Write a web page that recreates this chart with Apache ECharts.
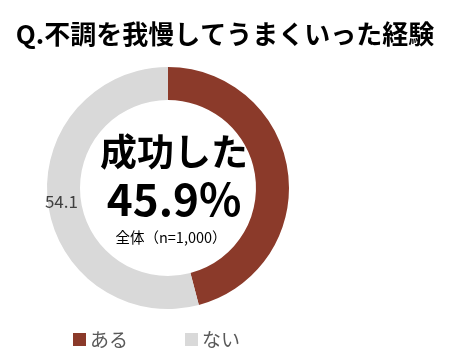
<!DOCTYPE html>
<html><head><meta charset="utf-8">
<script src="https://cdn.jsdelivr.net/npm/echarts@6/dist/echarts.min.js"></script>
<style>html,body{margin:0;padding:0;background:#fff}#c{width:450px;height:363px}</style>
</head><body><div id="c"></div>
<script>
const categories = ['ある', 'ない'];
const values = [45.9, 54.1];
const colors = ['#8B3A2A', '#D9D9D9'];
const titleText = 'Q.不調を我慢してうまくいった経験';
const centerLabel = '成功した';
const centerValue = '45.9%';
const baseText = '全体（n=1,000）';

const FONT = '"Noto Sans CJK JP", sans-serif';
const chart = echarts.init(document.getElementById('c'));
chart.setOption({
  animation: false,
  title: [
    { text: titleText, left: 'center', top: 16,
      textStyle: { fontFamily: FONT, fontSize: 26, fontWeight: 'bold', color: '#000' } },
    { text: centerLabel, left: 169, top: 128, textAlign: 'center',
      textStyle: { fontFamily: FONT, fontSize: 37, fontWeight: 'bold', color: '#000' } },
    { text: centerValue, left: 169, top: 172, textAlign: 'center',
      textStyle: { fontFamily: FONT, fontSize: 44, fontWeight: 'bold', color: '#000' } },
    { text: baseText, left: 166, top: 225, textAlign: 'center',
      textStyle: { fontFamily: FONT, fontSize: 14.5, fontWeight: 'normal', color: '#000' } }
  ],
  legend: {
    data: categories, left: 73, top: 330, padding: 0, itemWidth: 13, itemHeight: 13, itemGap: 57,
    icon: 'rect',
    textStyle: { fontFamily: FONT, fontSize: 19, color: '#595959', padding: [0,0,0,-1] }
  },
  series: [{
    type: 'pie', center: [168, 188], radius: [88, 121],
    startAngle: 90, clockwise: true,
    label: { show: false },
    labelLine: { show: false },
    emphasis: { disabled: true },
    data: categories.map((c, i) => ({
      name: c, value: values[i], itemStyle: { color: colors[i] },
      label: i === 1 ? { show: true, position: 'inside', formatter: '{c}',
        fontFamily: FONT, fontSize: 17, color: '#404040' } : { show: false }
    }))
  }]
});
</script></body></html>
